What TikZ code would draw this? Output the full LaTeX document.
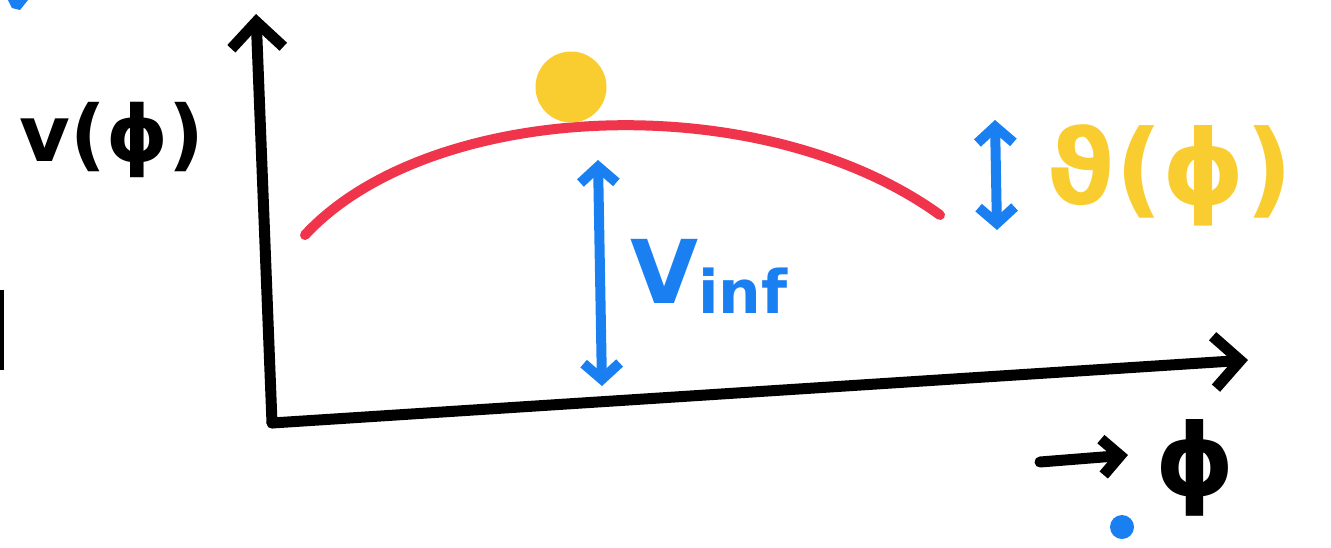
\documentclass[tikz,border=0pt]{standalone}
\usepackage{fontspec}
\setmainfont{DejaVu Sans}
\usetikzlibrary{arrows.meta}
\definecolor{chalkred}{HTML}{F0344C}
\definecolor{chalkyellow}{HTML}{F9CD30}
\definecolor{chalkblue}{HTML}{1A80F2}
\tikzset{
  axis/.style={line width=11pt, black, line cap=round, line join=round,
    -{Straight Barb[length=26pt,width=52pt,line width=11pt]}},
  dbl/.style={line width=10pt, chalkblue, line cap=round, line join=round,
    {Straight Barb[length=16pt,width=36pt,line width=10pt]}-{Straight Barb[length=16pt,width=36pt,line width=10pt]}},
  lbl/.style={inner sep=0pt, font=\bfseries},
}
\begin{document}
\begin{tikzpicture}[x=1pt,y=-1pt]
\useasboundingbox (0,0) rectangle (1331,547);
% axes
\coordinate (O) at (272,423);
\coordinate (ytop) at (256,14);
\coordinate (xend) at (1248,360);
\draw[axis] (O) -- (ytop);
\draw[axis] (O) -- (xend);
% red potential curve
\coordinate (c0) at (305,235);
\coordinate (c1) at (940,215);
\draw[chalkred, line width=10pt, line cap=round] (c0) .. controls (430,100) and (760,85) .. (c1);
% ball
\node[circle, draw=chalkyellow, fill=chalkyellow, line width=3pt, minimum size=68pt, inner sep=0pt] (ball) at (571,87) {};
% Vinf arrow
\coordinate (a1) at (598,160);
\coordinate (a2) at (602,386);
\draw[dbl] (a1) -- (a2);
\node[lbl, chalkblue, anchor=west] (vinf) at (630,276) {\fontsize{88}{88}\selectfont V\fontsize{60}{60}\selectfont\raisebox{-10pt}{inf}};
% small arrow
\coordinate (b1) at (995,120);
\coordinate (b2) at (997,230);
\draw[dbl] (b1) -- (b2);
\node[lbl, chalkyellow] (theta) at (1170,175) {\fontsize{104}{104}\selectfont ϑ(ϕ)};
% V(phi)
\node[lbl] (vphi) at (112,140) {\fontsize{78}{78}\selectfont v(ϕ)};
% arrow to phi
\coordinate (p1) at (1040,462);
\coordinate (p2) at (1128,455);
\draw[line width=11pt, line cap=round, -{Straight Barb[length=18pt,width=36pt,line width=11pt]}] (p1) -- (p2);
\node[lbl] (phi) at (1195,468) {\fontsize{100}{100}\selectfont ϕ};
% stray marks
\fill[chalkblue] (1122,527) circle (12pt);
\fill[chalkblue] (8,0) -- (28,0) -- (20,10) -- (12,8) -- cycle;
\fill[black] (0,290) rectangle (4,370);
\end{tikzpicture}
\end{document}
